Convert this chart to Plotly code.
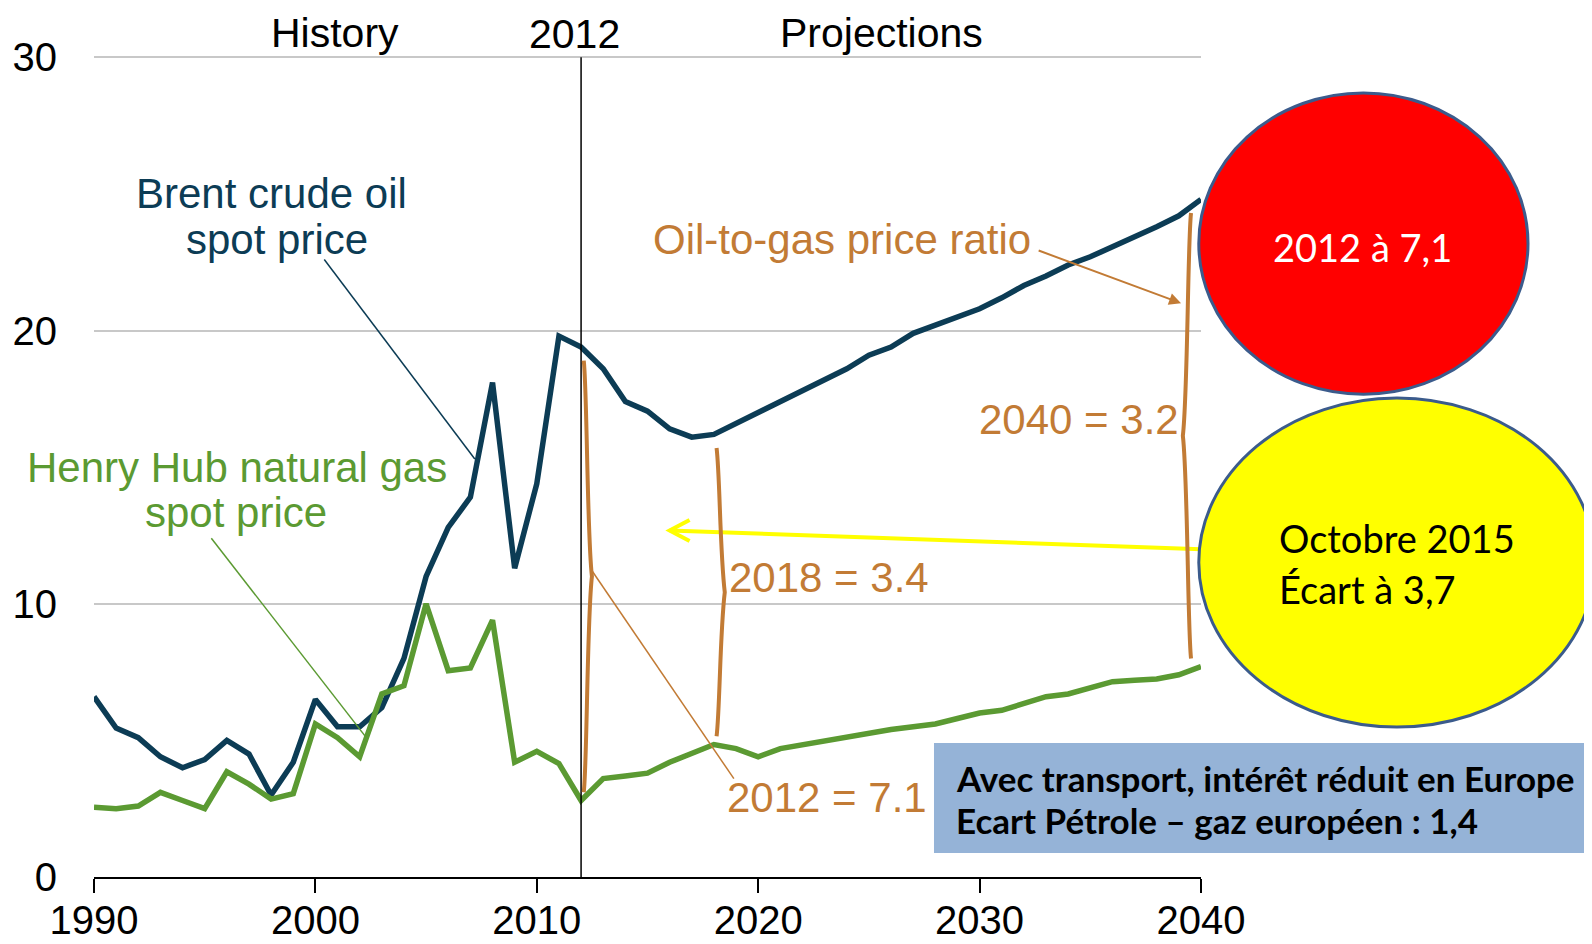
import plotly.graph_objects as go

# Prix annuels (USD / MMBtu), historique 1990-2012 puis projections jusqu'en 2040
years = list(range(1990, 2041))
brent = [
    6.6, 5.45, 5.1, 4.4, 4.0, 4.3, 5.0, 4.5, 3.0, 4.2,
    6.5, 5.5, 5.5, 6.2, 8.0, 11.0, 12.8, 13.9, 18.1, 11.3,
    14.4, 19.8, 19.4, 18.6, 17.4, 17.05, 16.4, 16.1, 16.2, 16.6,
    17.0, 17.4, 17.8, 18.2, 18.6, 19.1, 19.4, 19.9, 20.2, 20.5,
    20.8, 21.2, 21.65, 22.0, 22.4, 22.7, 23.05, 23.4, 23.8, 24.2,
    24.8,
]
henry_hub = [
    2.55, 2.5, 2.6, 3.1, 2.8, 2.5, 3.85, 3.4, 2.85, 3.05,
    5.6, 5.1, 4.4, 6.7, 7.0, 10.0, 7.55, 7.65, 9.4, 4.2,
    4.6, 4.15, 2.8, 3.6, 3.7, 3.8, 4.2, 4.5, 4.85, 4.7,
    4.4, 4.7, 4.85, 4.95, 5.15, 5.25, 5.4, 5.5, 5.6, 5.8,
    6.0, 6.1, 6.35, 6.6, 6.7, 6.9, 7.15, 7.2, 7.25, 7.4,
    7.7,
]
x_ticks = [1990, 2000, 2010, 2020, 2030, 2040]
y_ticks = [0, 10, 20, 30]
split_year = 2012

brace_years = [2012, 2018, 2040]
brace_offsets = [0.12, 0.12, -0.45]
brace_sides = [1, 1, -1]
ratio_labels = ["2012 = 7.1", "2018 = 3.4", "2040 = 3.2"]

DARK = "#0c3c55"
GREEN = "#5b9a32"
ORANGE = "#c27b35"
FONT = "Liberation Sans, Arial, sans-serif"
CALIBRI = "Lato, Carlito, Calibri, sans-serif"

fig = go.Figure()
fig.add_trace(go.Scatter(x=years, y=brent, mode="lines",
                         line={"color": DARK, "width": 5.5}, showlegend=False))
fig.add_trace(go.Scatter(x=years, y=henry_hub, mode="lines",
                         line={"color": GREEN, "width": 5.5}, showlegend=False))

shapes = [
    # ligne verticale 2012
    dict(type="line", xref="x", yref="y", x0=split_year, x1=split_year, y0=0, y1=30,
         line={"color": "black", "width": 1.5}),
    # traits de rappel
    dict(type="line", xref="x", yref="y", x0=2000.4, y0=22.6, x1=2007.2, y1=15.3,
         line={"color": DARK, "width": 1.5}),
    dict(type="line", xref="x", yref="y", x0=1995.3, y0=12.4, x1=2002.3, y1=5.1,
         line={"color": GREEN, "width": 1.5}),
    dict(type="line", xref="x", yref="y", x0=2012.5, y0=11.2, x1=2018.9, y1=3.6,
         line={"color": ORANGE, "width": 1.5}),
    # flèche jaune
    dict(type="line", xref="x", yref="y", x0=2040.0, y0=12.0, x1=2016.0, y1=12.68,
         line={"color": "#ffff00", "width": 4}),
    dict(type="path", xref="x", yref="y",
         path="M 2016.9,13.07 L 2016.0,12.68 L 2016.9,12.3",
         line={"color": "#ffff00", "width": 4}),
    # ellipses et encadré
    dict(type="circle", xref="paper", yref="paper", x0=0.998, x1=1.2954, y0=0.588, y1=0.955,
         fillcolor="#ff0000", line={"color": "#3b5b8c", "width": 3}),
    dict(type="circle", xref="paper", yref="paper", x0=0.998, x1=1.356, y0=0.1827, y1=0.5834,
         fillcolor="#ffff00", line={"color": "#3b5b8c", "width": 3}),
    dict(type="rect", xref="paper", yref="paper", x0=0.7588, x1=1.36, y0=0.0292, y1=0.1632,
         fillcolor="#95b3d7", line={"width": 0}),
]

# accolades entre les deux courbes
for year, dx, side in zip(brace_years, brace_offsets, brace_sides):
    i = years.index(year)
    top = brent[i] - 0.5
    bot = henry_hub[i] + 0.3
    mid = (top + bot) / 2
    x = year + dx
    b = 0.15 * side
    k = 0.37 * side
    path = (f"M {x},{top} C {x + b},{top - 1} {x + b},{mid + 1.5} {x + k},{mid} "
            f"C {x + b},{mid - 1.5} {x + b},{bot + 1} {x},{bot}")
    shapes.append(dict(type="path", xref="x", yref="y", path=path,
                       line={"color": ORANGE, "width": 4}))

fig.update_layout(shapes=shapes)


def note(text, x, y, color, size=42, xanchor="center", xref="x", yref="y", family=FONT):
    fig.add_annotation(text=text, x=x, y=y, xref=xref, yref=yref, showarrow=False,
                       xanchor=xanchor, yanchor="middle",
                       font={"family": family, "size": size, "color": color})


note("History", 2000.9, 1.028, "black", size=41, yref="paper")
note("2012", 2011.7, 1.027, "black", size=41, yref="paper")
note("Projections", 2025.55, 1.028, "black", size=41, yref="paper")
note("Brent crude oil", 1998.0, 25.0, DARK)
note("spot price", 1998.25, 23.35, DARK)
note("Henry Hub natural gas", 1996.45, 15.0, GREEN)
note("spot price", 1996.4, 13.35, GREEN)
note("Oil-to-gas price ratio", 2023.8, 23.35, ORANGE)
note(ratio_labels[2], 2039.1, 16.75, ORANGE, xanchor="right")
note(ratio_labels[1], 2018.6, 10.98, ORANGE, xanchor="left")
note(ratio_labels[0], 2018.5, 2.9, ORANGE, xanchor="left")

fig.add_annotation(x=2039.1, y=21.0, ax=2032.6, ay=22.95, axref="x", ayref="y",
                   xref="x", yref="y", text="", showarrow=True, arrowhead=2,
                   arrowsize=1.2, arrowwidth=2, arrowcolor=ORANGE)

note("2012 à 7,1", 1.1463, 0.7674, "white", size=38, xref="paper", yref="paper", family=CALIBRI)
note("Octobre 2015", 1.0687, 0.4129, "black", size=38, xanchor="left",
     xref="paper", yref="paper", family=CALIBRI)
note("Écart à 3,7", 1.0687, 0.3508, "black", size=38, xanchor="left",
     xref="paper", yref="paper", family=CALIBRI)
note("<b>Avec transport, intérêt réduit en Europe</b>", 0.7769, 0.1206, "black", size=35,
     xanchor="left", xref="paper", yref="paper", family=CALIBRI)
note("<b>Ecart Pétrole – gaz européen : 1,4</b>", 0.7769, 0.0694, "black", size=35,
     xanchor="left", xref="paper", yref="paper", family=CALIBRI)

fig.update_xaxes(range=[1990, 2040], tickvals=x_ticks, showgrid=False, zeroline=False,
                 showline=True, linecolor="black", linewidth=2,
                 ticks="outside", ticklen=14, tickwidth=2, tickcolor="black",
                 ticklabelstandoff=-7, automargin=False,
                 tickfont={"family": FONT, "size": 40, "color": "black"})
fig.update_yaxes(range=[0, 30.05], tickvals=y_ticks, showgrid=True, gridcolor="#c8c8c8",
                 gridwidth=2, zeroline=False, showline=False, ticks="",
                 ticklabelstandoff=36, automargin=False,
                 tickfont={"family": FONT, "size": 40, "color": "black"})

# la page HTML ajoute 8 px de marge autour du graphique
fig.update_layout(
    width=1592, height=944,
    margin={"l": 86, "r": 399, "t": 48, "b": 75},
    plot_bgcolor="white", paper_bgcolor="white",
    showlegend=False,
)

fig.write_html("out.html")
